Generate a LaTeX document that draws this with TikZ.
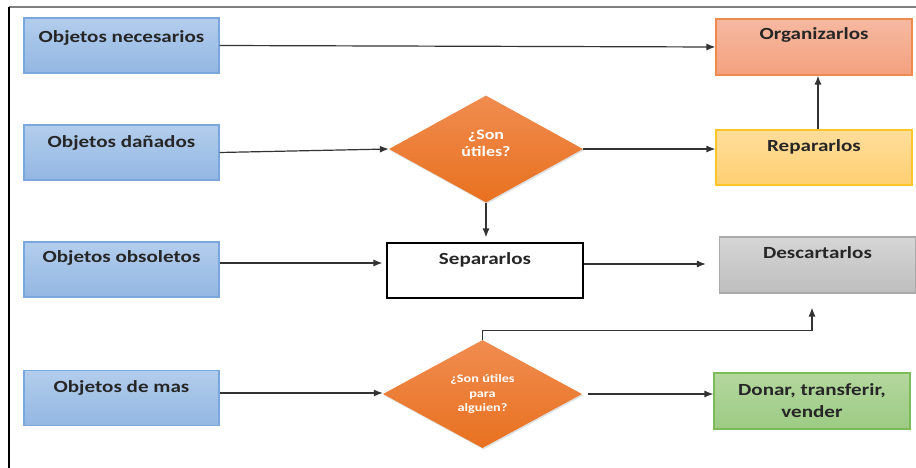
\documentclass[tikz,border=0pt]{standalone}
\usepackage{fontspec}
\setmainfont[FakeStretch=1.24]{Carlito}
\usetikzlibrary{shapes.geometric,arrows.meta,shadows}

\definecolor{blueTop}{HTML}{B3CDEC}
\definecolor{blueBot}{HTML}{93B7E3}
\definecolor{blueLine}{HTML}{7AA8DC}
\definecolor{orgTop}{HTML}{F6B9A1}
\definecolor{orgBot}{HTML}{F4A17F}
\definecolor{orgLine}{HTML}{EE8A4E}
\definecolor{repTop}{HTML}{FFDD9A}
\definecolor{repBot}{HTML}{FFD073}
\definecolor{repLine}{HTML}{FFC52A}
\definecolor{desTop}{HTML}{D6D6D6}
\definecolor{desBot}{HTML}{BEBEBE}
\definecolor{desLine}{HTML}{AAAAAA}
\definecolor{donTop}{HTML}{B4D79E}
\definecolor{donBot}{HTML}{9CCB84}
\definecolor{donLine}{HTML}{7DBA5A}
\definecolor{decTop}{HTML}{F08C50}
\definecolor{decBot}{HTML}{E8711F}
\definecolor{ink}{HTML}{262626}
\definecolor{wire}{HTML}{333333}

\begin{document}
\begin{tikzpicture}[x=1pt,y=-1pt,
  boxtext/.style={font=\bfseries\fontsize{17}{22}\selectfont, text=ink, align=center},
  card/.style={rectangle, line width=1.1pt, minimum width=195pt, minimum height=55pt, inner sep=0pt},
  source/.style={card, draw=blueLine, top color=blueTop, bottom color=blueBot},
  organize/.style={card, draw=orgLine, top color=orgTop, bottom color=orgBot},
  repair/.style={card, draw=repLine, top color=repTop, bottom color=repBot},
  discard/.style={card, draw=desLine, top color=desTop, bottom color=desBot},
  donate/.style={card, draw=donLine, top color=donTop, bottom color=donBot},
  plain/.style={card, draw=black, fill=white},
  decision/.style={diamond, inner sep=0pt, top color=decTop, bottom color=decBot,
    drop shadow={opacity=0.25, shadow xshift=1pt, shadow yshift=-1.5pt},
    text=white, align=center},
  arr/.style={draw=wire, line width=1.2pt, -{Latex[length=9pt,width=7pt]}}
]
\useasboundingbox (0,0) rectangle (916,468);

% page frame
\draw[draw=gray, line width=1.5pt] (9,7) -- (916,7);
\draw[draw=black, line width=1.5pt] (9,7) -- (9,468);

% left column: kinds of objects
\node[source, label={[boxtext, anchor=base, yshift=-25pt]north:Objetos necesarios}] (n1) at (121.5,45.5) {};
\node[source, label={[boxtext, anchor=base, yshift=-23pt]north:Objetos dañados}] (n2) at (121.5,152.5) {};
\node[source, label={[boxtext, anchor=base, yshift=-21.5pt]north:Objetos obsoletos}] (n3) at (121.5,269.5) {};
\node[source, label={[boxtext, anchor=base, yshift=-22.5pt]north:Objetos de mas}] (n4) at (121.5,398) {};

% right column: actions
\node[organize, minimum width=196pt, minimum height=56pt,
  label={[boxtext, anchor=base, yshift=-21pt]north:Organizarlos}] (org) at (814,47) {};
\node[repair, minimum width=196pt,
  label={[boxtext, anchor=base, yshift=-22pt]north:Repararlos}] (rep) at (814,157.5) {};
\node[discard, minimum width=196pt, minimum height=56pt,
  label={[boxtext, anchor=base, yshift=-22.5pt]north:Descartarlos}] (des) at (817.5,265) {};
\node[donate, minimum width=196pt, minimum height=56pt, boxtext] (don) at (812,401) {Donar, transferir,\\vender};

% middle column
\node[plain, minimum width=196pt,
  label={[boxtext, anchor=base, yshift=-22pt]north:Separarlos}] (sep) at (485,270.5) {};
\node[decision, minimum width=194pt, minimum height=107pt,
  label={[text=white, align=center, yshift=5.5pt,
    font=\bfseries\fontsize{14.5}{17}\selectfont]center:¿Son\\útiles?}] (d1) at (486,149) {};
\node[decision, minimum width=199pt, minimum height=108pt,
  font=\bfseries\fontsize{11.5}{14.5}\selectfont] (d2) at (482.5,394) {¿Son útiles\\para\\alguien?};

% connectors
\draw[arr] (n1.east) -- (org.west);
\draw[arr] (n2.east) -- (d1.west);
\draw[arr] (d1.east) -- (d1.east -| rep.west);
\draw[arr] ([xshift=4pt]rep.north) -- ([xshift=4pt]org.south);
\draw[arr, shorten >=5pt] (d1.south) -- (d1.south |- sep.north);

\coordinate (a3) at ([yshift=6.5pt]n3.east);
\draw[arr, shorten >=4pt] (a3) -- (a3 -| sep.west);
\coordinate (s3) at ([yshift=6.5pt]sep.east);
\draw[arr, shorten >=13pt] (s3) -- (s3 -| des.west);

\coordinate (a4) at ([yshift=5pt]n4.east);
\draw[arr] (a4) -- (a4 -| d2.west);
\draw[arr, shorten <=6pt] (d2.east) -- (d2.east -| don.west);
\draw[arr, shorten >=14pt] (d2.north) -- ++(0,-9) -| ([xshift=-5.5pt]des.south);
\end{tikzpicture}
\end{document}
